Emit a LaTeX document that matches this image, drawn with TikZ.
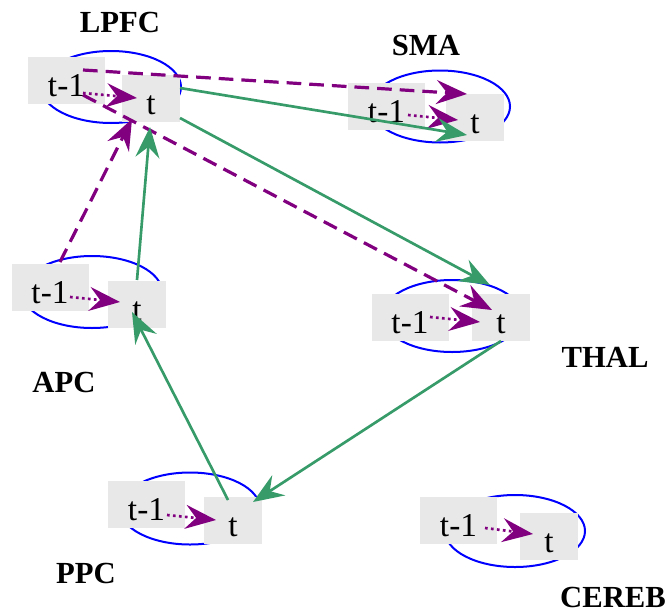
\documentclass[tikz,border=0pt]{standalone}
\usepackage{fontspec}
\setmainfont{Liberation Serif}
\usetikzlibrary{arrows.meta,shapes.geometric}
\definecolor{boxgray}{RGB}{232,232,232}
\definecolor{linkgreen}{RGB}{54,155,105}
\definecolor{lagpurple}{RGB}{128,0,128}

\begin{document}
\begin{tikzpicture}[x=0.75pt,y=-0.75pt]
\tikzstyle{areaoval}=[ellipse, draw=blue, line width=1.5pt, inner sep=0pt, minimum width=105pt, minimum height=54pt]
\tikzstyle{prev}=[rectangle, fill=boxgray, inner sep=0pt, minimum width=57.75pt, minimum height=35.25pt, text height=24pt, text depth=0pt, font=\fontsize{25}{29}\selectfont]
\tikzstyle{now}=[prev, minimum width=43.5pt]
\tikzstyle{region}=[font=\fontsize{23}{27}\selectfont\bfseries]
\tikzstyle{tip}=[-{Stealth[length=23pt,width=18pt,inset=8pt]}]
\tikzstyle{self}=[tip, draw=lagpurple, line width=2pt, dash pattern=on 2pt off 2.5pt]
\tikzstyle{lag}=[tip, draw=lagpurple, line width=2.4pt, dash pattern=on 11pt off 6pt]
\tikzstyle{link}=[tip, draw=linkgreen, line width=2pt]
\useasboundingbox (0,0) rectangle (670,614);
  \node[areaoval] (lpfc) at (111,87) {};
  \node[areaoval] (sma) at (440,106.5) {};
  \node[areaoval] (apc) at (92,292) {};
  \node[areaoval] (thal) at (452,316) {};
  \node[areaoval] (ppc) at (190,508.5) {};
  \node[areaoval] (cereb) at (515,531) {};
  \node[prev] (lpfc1) at (66.5,80.5) {t-1};
  \node[now] (lpfcT) at (151,98.5) {t};
  \node[prev] (sma1) at (386.5,106.5) {t-1};
  \node[now] (smaT) at (475,117.5) {t};
  \node[prev] (apc1) at (50,287) {t-1};
  \node[now] (apcT) at (137,304) {t};
  \node[prev] (thal1) at (410,317) {t-1};
  \node[now] (thalT) at (501,317) {t};
  \node[prev] (ppc1) at (146.5,504.5) {t-1};
  \node[now] (ppcT) at (233,520) {t};
  \node[prev] (cereb1) at (458.5,520.5) {t-1};
  \node[now] (cerebT) at (549,536.5) {t};
  \node[region] (lpfcL) at (120,22) {LPFC};
  \node[region] (smaL) at (426,45.5) {SMA};
  \node[region] (apcL) at (64,382) {APC};
  \node[region] (thalL) at (605,357.5) {THAL};
  \node[region] (ppcL) at (86,573) {PPC};
  \node[region] (cerebL) at (613,597) {CEREB};
\path ([shift={(16.5,12.5)}]lpfc1.center) edge[self] ([shift={(-14,-0.5)}]lpfcT.center)
      ([shift={(21.5,8.5)}]sma1.center) edge[self] ([shift={(-17,2.5)}]smaT.center)
      ([shift={(20,10)}]apc1.center) edge[self] ([shift={(-17,-2)}]apcT.center)
      ([shift={(20,0)}]thal1.center) edge[self] ([shift={(-21,5)}]thalT.center)
      ([shift={(20.5,10.5)}]ppc1.center) edge[self] ([shift={(-17,0)}]ppcT.center)
      ([shift={(26.5,7.5)}]cereb1.center) edge[self] ([shift={(-16,-2.5)}]cerebT.center)
      ;
\path ([shift={(16.5,-10.5)}]lpfc1.center) edge[lag] ([shift={(-8,-23.5)}]smaT.center)
      ([shift={(16.5,14.5)}]lpfc1.center) edge[lag] ([shift={(-9,-7)}]thalT.center)
      ([shift={(10,-25)}]apc1.center) edge[lag] ([shift={(-19,20.5)}]lpfcT.center)
      ;
\path ([shift={(29,-10.5)}]lpfcT.center) edge[link] ([shift={(-8,17.5)}]smaT.center)
      ([shift={(29,19.5)}]lpfcT.center) edge[link] ([shift={(-11,-32)}]thalT.center)
      ([shift={(0,-24)}]apcT.center) edge[link] ([shift={(-1,28.5)}]lpfcT.center)
      ([shift={(-5,-20)}]ppcT.center) edge[link] ([shift={(-5,8)}]apcT.center)
      ([shift={(0,24)}]thalT.center) edge[link] ([shift={(20,-18)}]ppcT.center)
      ;
\end{tikzpicture}
\end{document}
